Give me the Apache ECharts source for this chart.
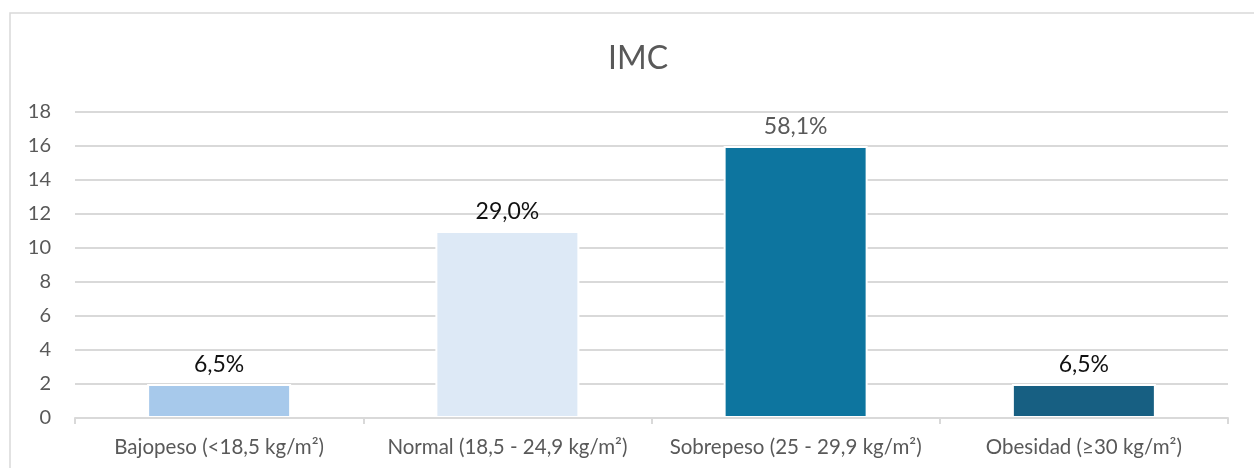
<!DOCTYPE html>
<html>
<head>
<meta charset="utf-8">
<script src="https://cdn.jsdelivr.net/npm/echarts@6/dist/echarts.min.js"></script>
<style>
  html, body { margin: 0; padding: 0; background: #ffffff; }
  #chart { width: 1254px; height: 468px; }
</style>
</head>
<body>
<div id="chart"></div>
<script>
// BMI groups and the number of people in each
const categories = [
  'Bajopeso (<18,5 kg/m²)',
  'Normal (18,5 - 24,9 kg/m²)',
  'Sobrepeso (25 - 29,9 kg/m²)',
  'Obesidad (≥30 kg/m²)'
];
const counts = [2, 11, 16, 2];
// Percentage shown above each bar
const percentLabels = ['6,5%', '29,0%', '58,1%', '6,5%'];
const barColors = ['#A7C9EB', '#DDE9F6', '#0D759F', '#175F82'];
const labelColors = ['#111111', '#111111', '#595959', '#111111'];

const FONT = 'Lato, "Open Sans", sans-serif';

const chart = echarts.init(document.getElementById('chart'), null, { renderer: 'canvas' });

chart.setOption({
  animation: false,
  backgroundColor: '#ffffff',
  textStyle: { fontFamily: FONT },
  graphic: [{
    type: 'rect',
    shape: { x: 10, y: 13, width: 1300, height: 520 },
    style: { fill: 'none', stroke: '#D9D9D9', lineWidth: 1.5 },
    silent: true,
    z: -10
  }],
  title: {
    text: 'IMC',
    left: 633,
    textAlign: 'center',
    top: 38,
    textStyle: { fontFamily: FONT, fontSize: 32, fontWeight: 'normal', color: '#595959' }
  },
  grid: { left: 75, right: 26, top: 112, bottom: 50, containLabel: false },
  xAxis: {
    type: 'category',
    data: categories,
    z: 5,
    axisLine: { show: true, lineStyle: { color: '#D9D9D9', width: 2 } },
    axisTick: { show: true, alignWithLabel: false, length: 6, lineStyle: { color: '#D9D9D9', width: 2 } },
    axisLabel: { color: '#595959', fontSize: 20.5, fontFamily: FONT, margin: 19, interval: 0 },
    splitLine: { show: false }
  },
  yAxis: {
    type: 'value',
    min: 0,
    max: 18,
    interval: 2,
    axisLine: { show: false },
    axisTick: { show: false },
    axisLabel: { color: '#595959', fontSize: 20, fontFamily: FONT, margin: 24 },
    splitLine: { lineStyle: { color: '#D9D9D9', width: 2 } }
  },
  series: [{
    type: 'bar',
    data: counts.map((v, i) => ({
      value: v,
      itemStyle: { color: barColors[i] },
      label: { color: labelColors[i] }
    })),
    barWidth: 144,
    itemStyle: { borderColor: '#ffffff', borderWidth: 2 },
    label: {
      show: true,
      position: 'top',
      distance: 8,
      fontSize: 23,
      fontFamily: FONT,
      formatter: (p) => percentLabels[p.dataIndex]
    }
  }]
});
</script>
</body>
</html>
